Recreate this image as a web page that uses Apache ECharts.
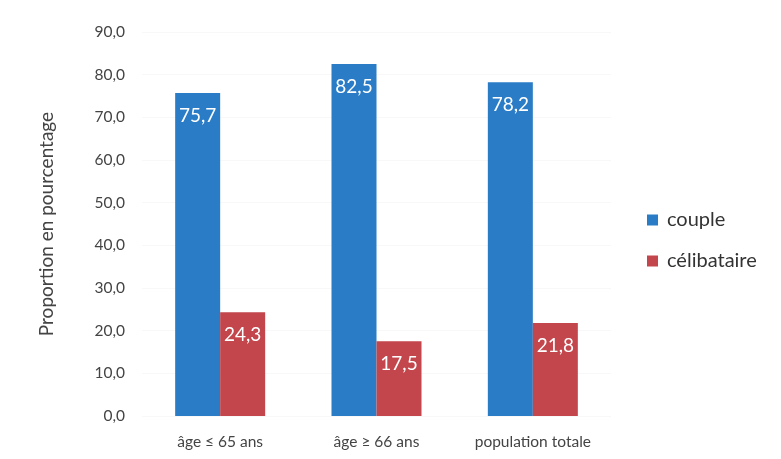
<!DOCTYPE html>
<html>
<head>
<meta charset="utf-8">
<script src="https://cdn.jsdelivr.net/npm/echarts@6/dist/echarts.min.js"></script>
<style>
  html, body { margin: 0; padding: 0; background: #fff; }
  #chart { width: 781px; height: 459px; }
</style>
</head>
<body>
<div id="chart"></div>
<script>
const categories = ['âge ≤ 65 ans', 'âge ≥ 66 ans', 'population totale'];
const coupleValues = [75.7, 82.5, 78.2];
const celibataireValues = [24.3, 17.5, 21.8];
const seriesNames = ['couple', 'célibataire'];

const fmt = v => v.toFixed(1).replace('.', ',');
const FONT = 'Lato, "Open Sans", sans-serif';

const chart = echarts.init(document.getElementById('chart'));
const barLabel = {
  show: true,
  position: 'insideTop',
  distance: 13,
  color: '#fff',
  fontSize: 19,
  fontFamily: FONT,
  formatter: p => fmt(p.value)
};

chart.setOption({
  animation: false,
  textStyle: { fontFamily: FONT },
  grid: { left: 142, right: 170, top: 32, bottom: 43 },
  legend: {
    orient: 'vertical',
    left: 642,
    top: 205,
    itemWidth: 11,
    itemHeight: 11,
    itemGap: 21,
    icon: 'rect',
    textStyle: { fontSize: 20, color: '#333', fontFamily: FONT, padding: [0, 0, 0, 4] },
    data: seriesNames
  },
  xAxis: {
    type: 'category',
    data: categories,
    axisLine: { show: false },
    axisTick: { show: false },
    axisLabel: { fontSize: 15.5, color: '#444', margin: 18, fontFamily: FONT }
  },
  yAxis: {
    type: 'value',
    min: 0,
    max: 90,
    interval: 10,
    name: 'Proportion en pourcentage',
    nameLocation: 'middle',
    nameGap: 86,
    nameTextStyle: { fontSize: 19, color: '#444', fontFamily: FONT },
    axisLine: { show: false },
    axisTick: { show: false },
    splitLine: { show: true, lineStyle: { color: '#f8f8f8' } },
    axisLabel: { fontSize: 15.5, color: '#444', margin: 17, formatter: v => fmt(v), fontFamily: FONT }
  },
  series: [
    {
      name: seriesNames[0],
      type: 'bar',
      data: coupleValues,
      barWidth: 45,
      barGap: '0%',
      itemStyle: { color: '#2a7cc6' },
      label: barLabel
    },
    {
      name: seriesNames[1],
      type: 'bar',
      data: celibataireValues,
      barWidth: 45,
      itemStyle: { color: '#c2464b' },
      label: barLabel
    }
  ]
});
</script>
</body>
</html>
